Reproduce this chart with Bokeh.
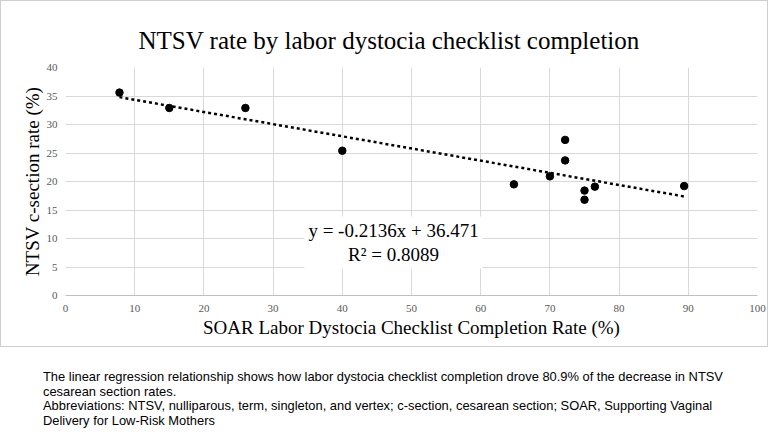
from bokeh.plotting import figure
from bokeh.models import Label, Div, FixedTicker
from bokeh.layouts import column
from bokeh.embed import file_html
from bokeh.resources import INLINE

# ---- data ----
completion = [7.8, 15.0, 26.0, 40.0, 64.8, 70.0, 72.2, 72.2, 75.0, 75.0, 76.5, 89.4]
ntsv_rate = [35.6, 32.9, 32.9, 25.4, 19.5, 20.9, 27.3, 23.7, 18.4, 16.8, 19.1, 19.2]
slope = -0.2136
intercept = 36.471
r_squared = 0.8089
x_ticks = [0, 10, 20, 30, 40, 50, 60, 70, 80, 90, 100]
y_ticks = [0, 5, 10, 15, 20, 25, 30, 35, 40]

title_text = "NTSV rate by labor dystocia checklist completion"
x_label = "SOAR Labor Dystocia Checklist Completion Rate (%)"
y_label = "NTSV c-section rate (%)"
caption_lines = [
    "The linear regression relationship shows how labor dystocia checklist completion drove 80.9% of the decrease in NTSV",
    "cesarean section rates.",
    "Abbreviations: NTSV, nulliparous, term, singleton, and vertex; c-section, cesarean section; SOAR, Supporting Vaginal",
    "Delivery for Low-Risk Mothers",
]

SERIF = "Liberation Serif"

p = figure(width=768, height=347, x_range=(0, 100), y_range=(0, 40),
           output_backend="svg", toolbar_location=None,
           min_border_left=64, min_border_right=12, min_border_top=66,
           min_border_bottom=53)
p.styles = {"border": "1px solid #cfcfcf", "box-sizing": "border-box"}
p.outline_line_color = None
p.background_fill_color = "white"
p.border_fill_color = "white"

p.title.text = title_text
p.title.text_font = SERIF
p.title.text_font_size = "25px"
p.title.text_font_style = "normal"
p.title.text_color = "#000000"
p.title.align = "left"
p.title.offset = 73
p.title.standoff = 27

for ax in (p.xaxis[0], p.yaxis[0]):
    ax.major_tick_line_color = None
    ax.minor_tick_line_color = None
    ax.major_tick_out = 0
    ax.major_tick_in = 0
    ax.minor_tick_out = 0
    ax.major_label_text_font = SERIF
    ax.major_label_text_font_size = "11px"
    ax.major_label_text_color = "#595959"
    ax.axis_label_text_font = SERIF
    ax.axis_label_text_font_size = "19px"
    ax.axis_label_text_font_style = "normal"
    ax.axis_label_text_color = "#000000"

p.xaxis.ticker = FixedTicker(ticks=x_ticks)
p.yaxis.ticker = FixedTicker(ticks=y_ticks)
p.xaxis.axis_label = x_label
p.yaxis.axis_label = y_label
p.xaxis.axis_line_color = "#bfbfbf"
p.yaxis.axis_line_color = None
p.xaxis.major_label_standoff = 9
p.yaxis.major_label_standoff = 8
p.xaxis.axis_label_standoff = 2
p.yaxis.axis_label_standoff = 1

p.xgrid.grid_line_color = "#d9d9d9"
p.ygrid.grid_line_color = "#d9d9d9"
p.xgrid.ticker = FixedTicker(ticks=x_ticks)
p.ygrid.ticker = FixedTicker(ticks=y_ticks)

# trendline (linear fit shown in the chart)
x_line = [min(completion), max(completion)]
y_line = [slope * v + intercept for v in x_line]
p.line(x_line, y_line, line_color="black", line_width=2.5, line_dash="3 3")

p.scatter(completion, ntsv_rate, size=7.5, color="black")

eq = Label(x=47.4, y=9.3, text=f"y = {slope}x + {intercept}\nR\u00b2 = {r_squared}",
           text_align="center", text_baseline="middle",
           text_font=SERIF, text_font_size="19px", text_color="black",
           background_fill_color="white", background_fill_alpha=1.0,
           padding=4, text_line_height=1.1)
p.add_layout(eq)

caption = Div(width=768, height=72, text=(
    '<div style="font-family: \'Liberation Sans\', Arial, sans-serif; font-size: 12.9px; '
    'line-height: 14.5px; color: #000; margin-left: 38px; margin-top: 18px; white-space: nowrap;">'
    + "<br>".join(caption_lines) + "</div>"))

layout = column(p, caption, spacing=0)

open("out.html", "w").write(file_html(layout, INLINE))
